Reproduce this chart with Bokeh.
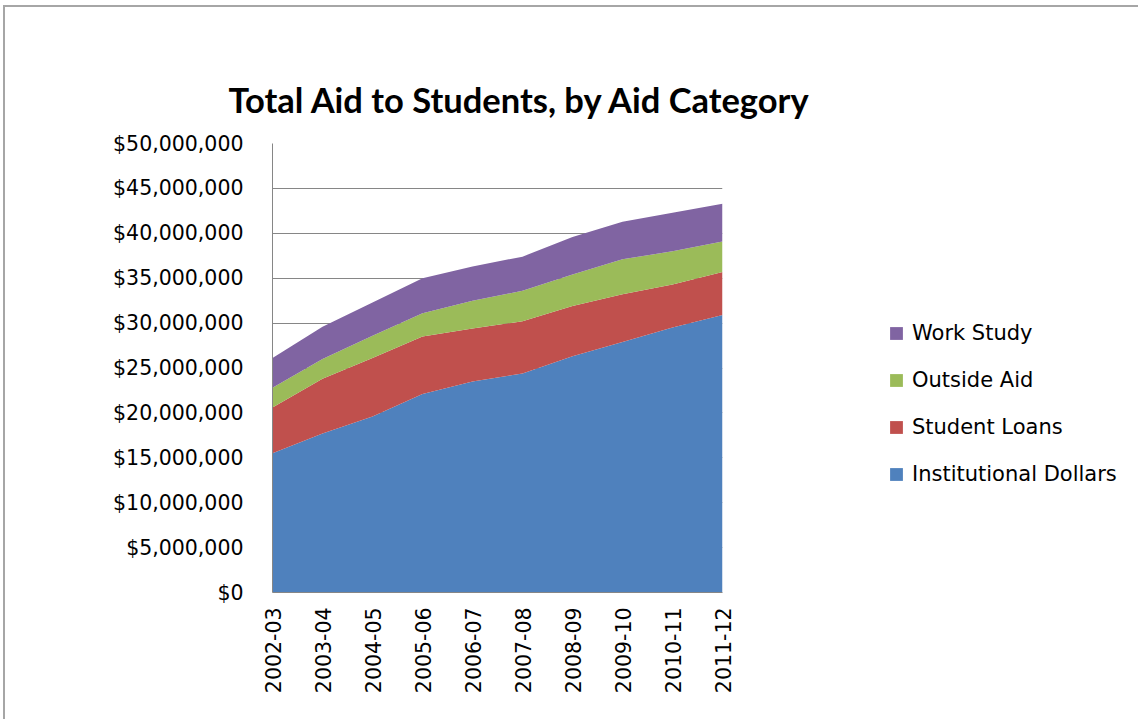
import math
from bokeh.plotting import figure
from bokeh.models import (ColumnDataSource, Range1d, FixedTicker, Legend, LegendItem,
                          NumeralTickFormatter)
from bokeh.embed import file_html
from bokeh.resources import INLINE

# ---- data (US dollars, millions) ----
years = ["2002-03", "2003-04", "2004-05", "2005-06", "2006-07",
         "2007-08", "2008-09", "2009-10", "2010-11", "2011-12"]
institutional_dollars = [15.5, 17.7, 19.6, 22.1, 23.5, 24.4, 26.3, 27.9, 29.5, 30.9]
student_loans = [5.1, 6.1, 6.5, 6.4, 5.9, 5.8, 5.6, 5.3, 4.8, 4.8]
outside_aid = [2.2, 2.2, 2.5, 2.6, 3.1, 3.4, 3.5, 3.9, 3.7, 3.4]
work_study = [3.3, 3.6, 3.7, 3.9, 3.8, 3.8, 4.2, 4.2, 4.3, 4.2]
y_ticks = [0, 5, 10, 15, 20, 25, 30, 35, 40, 45, 50]

M = 1_000_000
src = ColumnDataSource(dict(
    x=list(range(len(years))),
    inst=[v * M for v in institutional_dollars],
    loans=[v * M for v in student_loans],
    outside=[v * M for v in outside_aid],
    work=[v * M for v in work_study],
))

colors = ["#4F81BD", "#C0504D", "#9BBB59", "#8064A2"]
AX_FONT = "DejaVu Sans"
GRID = "#868686"

p = figure(frame_width=450, frame_height=449, output_backend="svg", toolbar_location=None,
           x_range=Range1d(0, len(years) - 1), y_range=Range1d(0, 50 * M),
           min_border_left=267, min_border_right=0,
           min_border_top=136, min_border_bottom=127,
           background_fill_color="white", border_fill_color="white")
p.outline_line_color = None
# outer chart-area border (top and left edges, as in the reference)
p.styles = {"border-left": "2px solid #a6a6a6", "border-top": "2px solid #a6a6a6",
            "margin-left": "3px", "margin-top": "5px"}

rs = p.varea_stack(stackers=["inst", "loans", "outside", "work"], x="x",
                   color=colors, source=src)

# title
p.title.text = "Total Aid to Students, by Aid Category"
p.title.text_font = "Lato"
p.title.text_font_style = "bold"
p.title.text_font_size = "34.5px"
p.title.text_color = "#000000"
p.title.align = "left"
p.title.offset = -44
p.title.standoff = 47

# axes
p.xgrid.grid_line_color = None
p.ygrid.grid_line_color = GRID
p.ygrid.grid_line_width = 1
p.ygrid.ticker = FixedTicker(ticks=[t * M for t in y_ticks])

ya = p.yaxis[0]
ya.ticker = FixedTicker(ticks=[t * M for t in y_ticks])
ya.formatter = NumeralTickFormatter(format="$0,0")
ya.axis_line_color = GRID
ya.major_tick_in = 0
ya.major_tick_out = 0
ya.minor_tick_in = 0
ya.minor_tick_out = 0
ya.major_label_standoff = 29
ya.major_label_text_font = AX_FONT
ya.major_label_text_font_size = "20.5px"
ya.major_label_text_color = "#000000"

xa = p.xaxis[0]
xa.ticker = FixedTicker(ticks=list(range(len(years))))
xa.major_label_overrides = {i: y for i, y in enumerate(years)}
xa.major_label_orientation = math.pi / 2
xa.axis_line_color = GRID
xa.major_tick_in = 0
xa.major_tick_out = 0
xa.minor_tick_in = 0
xa.minor_tick_out = 0
xa.major_label_standoff = 15
xa.major_label_text_font = AX_FONT
xa.major_label_text_font_size = "20.5px"
xa.major_label_text_color = "#000000"

labels = ["Institutional Dollars", "Student Loans", "Outside Aid", "Work Study"]
items = [LegendItem(label=labels[i], renderers=[rs[i]]) for i in (3, 2, 1, 0)]
legend = Legend(items=items, location=(166, 106), padding=0, margin=0,
                border_line_color=None, background_fill_alpha=0,
                glyph_width=16, glyph_height=16, label_standoff=8,
                spacing=23, label_height=24,
                label_text_font=AX_FONT, label_text_font_size="21px",
                label_text_color="#000000")
p.add_layout(legend, "right")

open("out.html", "w").write(file_html(p, INLINE))
